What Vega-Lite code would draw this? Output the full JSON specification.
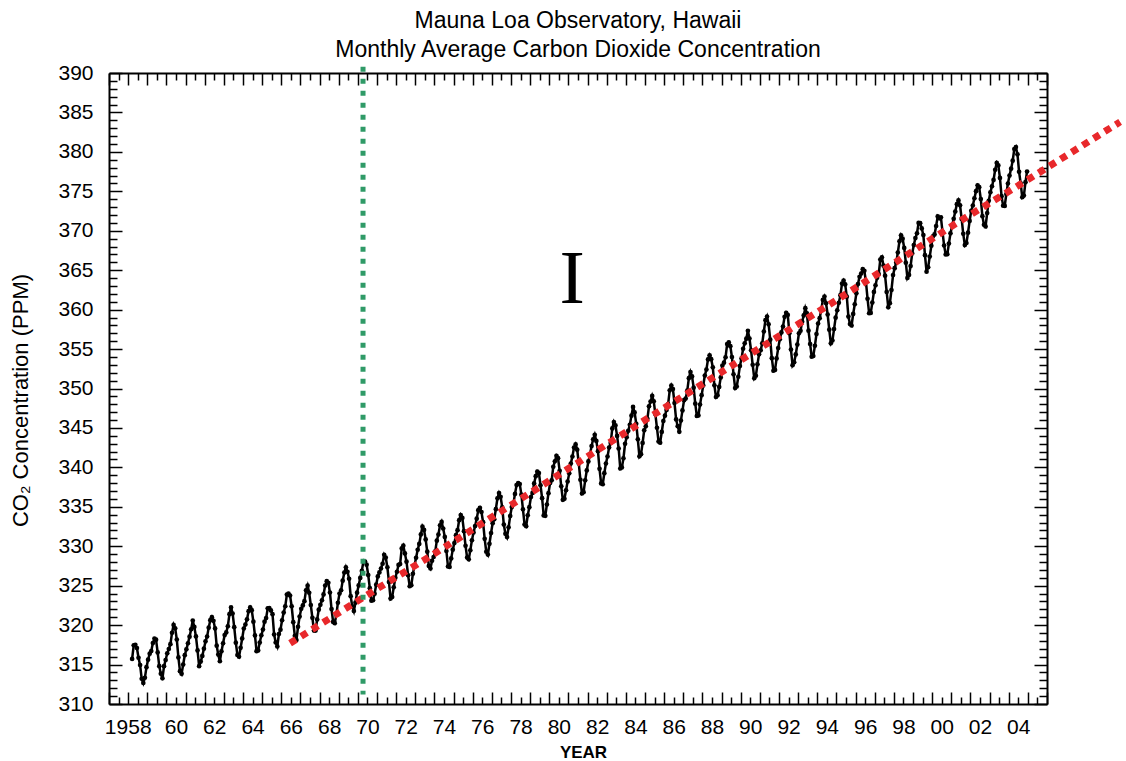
{
"$schema": "https://vega.github.io/schema/vega-lite/v6.json",
"width": 938, "height": 631,
"autosize": "none",
"padding": {"left": 109, "top": 73, "right": 79, "bottom": 57},
"background": "white",
"config": {
  "view": {"stroke": null},
  "axis": {"grid": false, "domainColor": "black", "domainWidth": 2, "tickColor": "black", "tickWidth": 1.5,
           "labelColor": "black", "labelFont": "Liberation Sans", "labelFontSize": 21, "titleColor": "black", "titleFont": "Liberation Sans",
           "labelOverlap": false, "labelFlush": false}
},
"title": {"text": ["Mauna Loa Observatory, Hawaii", "Monthly Average Carbon Dioxide Concentration"], "font": "Liberation Sans", "fontSize": 23, "fontWeight": "normal", "color": "black", "lineHeight": 29, "anchor": "middle", "offset": 0},
"datasets": {
"co2": [
{"t":1958.208,"v":315.71},{"t":1958.292,"v":317.45},{"t":1958.375,"v":317.50},{"t":1958.458,"v":317.10},{"t":1958.542,"v":315.86},{"t":1958.625,"v":314.93},{"t":1958.708,"v":313.20},{"t":1958.792,"v":312.66},{"t":1958.875,"v":313.33},{"t":1958.958,"v":314.67},
{"t":1959.042,"v":315.62},{"t":1959.125,"v":316.38},{"t":1959.208,"v":316.71},{"t":1959.292,"v":317.72},{"t":1959.375,"v":318.29},{"t":1959.458,"v":318.15},{"t":1959.542,"v":316.54},{"t":1959.625,"v":314.80},{"t":1959.708,"v":313.84},{"t":1959.792,"v":313.26},{"t":1959.875,"v":314.80},{"t":1959.958,"v":315.58},
{"t":1960.042,"v":316.43},{"t":1960.125,"v":316.97},{"t":1960.208,"v":317.58},{"t":1960.292,"v":319.02},{"t":1960.375,"v":320.03},{"t":1960.458,"v":319.59},{"t":1960.542,"v":318.18},{"t":1960.625,"v":315.91},{"t":1960.708,"v":314.16},{"t":1960.792,"v":313.83},{"t":1960.875,"v":315.00},{"t":1960.958,"v":316.19},
{"t":1961.042,"v":316.93},{"t":1961.125,"v":317.70},{"t":1961.208,"v":318.54},{"t":1961.292,"v":319.48},{"t":1961.375,"v":320.58},{"t":1961.458,"v":319.77},{"t":1961.542,"v":318.57},{"t":1961.625,"v":316.79},{"t":1961.708,"v":314.80},{"t":1961.792,"v":315.38},{"t":1961.875,"v":316.10},{"t":1961.958,"v":317.01},
{"t":1962.042,"v":317.94},{"t":1962.125,"v":318.56},{"t":1962.208,"v":319.68},{"t":1962.292,"v":320.63},{"t":1962.375,"v":321.01},{"t":1962.458,"v":320.55},{"t":1962.542,"v":319.58},{"t":1962.625,"v":317.40},{"t":1962.708,"v":316.26},{"t":1962.792,"v":315.42},{"t":1962.875,"v":316.69},{"t":1962.958,"v":317.69},
{"t":1963.042,"v":318.74},{"t":1963.125,"v":319.08},{"t":1963.208,"v":319.86},{"t":1963.292,"v":321.39},{"t":1963.375,"v":322.25},{"t":1963.458,"v":321.47},{"t":1963.542,"v":319.74},{"t":1963.625,"v":317.77},{"t":1963.708,"v":316.21},{"t":1963.792,"v":315.99},{"t":1963.875,"v":317.12},{"t":1963.958,"v":318.31},
{"t":1964.042,"v":319.57},{"t":1964.125,"v":320.07},{"t":1964.208,"v":320.73},{"t":1964.292,"v":321.77},{"t":1964.375,"v":322.25},{"t":1964.458,"v":321.89},{"t":1964.542,"v":320.44},{"t":1964.625,"v":318.70},{"t":1964.708,"v":316.70},{"t":1964.792,"v":316.79},{"t":1964.875,"v":317.79},{"t":1964.958,"v":318.71},
{"t":1965.042,"v":319.44},{"t":1965.125,"v":320.44},{"t":1965.208,"v":320.89},{"t":1965.292,"v":322.13},{"t":1965.375,"v":322.16},{"t":1965.458,"v":321.87},{"t":1965.542,"v":321.39},{"t":1965.625,"v":318.81},{"t":1965.708,"v":317.81},{"t":1965.792,"v":317.30},{"t":1965.875,"v":318.87},{"t":1965.958,"v":319.42},
{"t":1966.042,"v":320.62},{"t":1966.125,"v":321.59},{"t":1966.208,"v":322.39},{"t":1966.292,"v":323.87},{"t":1966.375,"v":324.01},{"t":1966.458,"v":323.75},{"t":1966.542,"v":322.39},{"t":1966.625,"v":320.37},{"t":1966.708,"v":318.64},{"t":1966.792,"v":318.10},{"t":1966.875,"v":319.79},{"t":1966.958,"v":321.08},
{"t":1967.042,"v":322.07},{"t":1967.125,"v":322.50},{"t":1967.208,"v":323.04},{"t":1967.292,"v":324.42},{"t":1967.375,"v":325.00},{"t":1967.458,"v":324.09},{"t":1967.542,"v":322.55},{"t":1967.625,"v":320.92},{"t":1967.708,"v":319.31},{"t":1967.792,"v":319.31},{"t":1967.875,"v":320.72},{"t":1967.958,"v":321.96},
{"t":1968.042,"v":322.57},{"t":1968.125,"v":323.15},{"t":1968.208,"v":323.89},{"t":1968.292,"v":325.02},{"t":1968.375,"v":325.57},{"t":1968.458,"v":325.36},{"t":1968.542,"v":324.14},{"t":1968.625,"v":322.03},{"t":1968.708,"v":320.41},{"t":1968.792,"v":320.25},{"t":1968.875,"v":321.31},{"t":1968.958,"v":322.84},
{"t":1969.042,"v":324.00},{"t":1969.125,"v":324.42},{"t":1969.208,"v":325.64},{"t":1969.292,"v":326.66},{"t":1969.375,"v":327.34},{"t":1969.458,"v":326.76},{"t":1969.542,"v":325.88},{"t":1969.625,"v":323.67},{"t":1969.708,"v":322.38},{"t":1969.792,"v":321.78},{"t":1969.875,"v":322.85},{"t":1969.958,"v":324.11},
{"t":1970.042,"v":325.03},{"t":1970.125,"v":325.99},{"t":1970.208,"v":326.87},{"t":1970.292,"v":328.13},{"t":1970.375,"v":328.07},{"t":1970.458,"v":327.66},{"t":1970.542,"v":326.35},{"t":1970.625,"v":324.69},{"t":1970.708,"v":323.10},{"t":1970.792,"v":323.16},{"t":1970.875,"v":323.98},{"t":1970.958,"v":325.13},
{"t":1971.042,"v":326.17},{"t":1971.125,"v":326.68},{"t":1971.208,"v":327.18},{"t":1971.292,"v":327.78},{"t":1971.375,"v":328.92},{"t":1971.458,"v":328.57},{"t":1971.542,"v":327.34},{"t":1971.625,"v":325.46},{"t":1971.708,"v":323.36},{"t":1971.792,"v":323.57},{"t":1971.875,"v":324.80},{"t":1971.958,"v":326.01},
{"t":1972.042,"v":326.77},{"t":1972.125,"v":327.63},{"t":1972.208,"v":327.75},{"t":1972.292,"v":329.72},{"t":1972.375,"v":330.07},{"t":1972.458,"v":329.09},{"t":1972.542,"v":328.05},{"t":1972.625,"v":326.32},{"t":1972.708,"v":324.93},{"t":1972.792,"v":325.06},{"t":1972.875,"v":326.50},{"t":1972.958,"v":327.55},
{"t":1973.042,"v":328.54},{"t":1973.125,"v":329.56},{"t":1973.208,"v":330.30},{"t":1973.292,"v":331.50},{"t":1973.375,"v":332.48},{"t":1973.458,"v":332.07},{"t":1973.542,"v":330.87},{"t":1973.625,"v":329.31},{"t":1973.708,"v":327.51},{"t":1973.792,"v":327.18},{"t":1973.875,"v":328.16},{"t":1973.958,"v":328.64},
{"t":1974.042,"v":329.35},{"t":1974.125,"v":330.71},{"t":1974.208,"v":331.48},{"t":1974.292,"v":332.65},{"t":1974.375,"v":333.09},{"t":1974.458,"v":332.25},{"t":1974.542,"v":331.18},{"t":1974.625,"v":329.40},{"t":1974.708,"v":327.43},{"t":1974.792,"v":327.37},{"t":1974.875,"v":328.46},{"t":1974.958,"v":329.57},
{"t":1975.042,"v":330.40},{"t":1975.125,"v":331.40},{"t":1975.208,"v":332.04},{"t":1975.292,"v":333.31},{"t":1975.375,"v":333.96},{"t":1975.458,"v":333.59},{"t":1975.542,"v":331.91},{"t":1975.625,"v":330.06},{"t":1975.708,"v":328.56},{"t":1975.792,"v":328.34},{"t":1975.875,"v":329.49},{"t":1975.958,"v":330.76},
{"t":1976.042,"v":331.75},{"t":1976.125,"v":332.56},{"t":1976.208,"v":333.50},{"t":1976.292,"v":334.58},{"t":1976.375,"v":334.87},{"t":1976.458,"v":334.34},{"t":1976.542,"v":333.05},{"t":1976.625,"v":330.94},{"t":1976.708,"v":329.30},{"t":1976.792,"v":328.94},{"t":1976.875,"v":330.31},{"t":1976.958,"v":331.68},
{"t":1977.042,"v":332.93},{"t":1977.125,"v":333.42},{"t":1977.208,"v":334.70},{"t":1977.292,"v":336.07},{"t":1977.375,"v":336.74},{"t":1977.458,"v":336.27},{"t":1977.542,"v":334.93},{"t":1977.625,"v":332.75},{"t":1977.708,"v":331.58},{"t":1977.792,"v":331.16},{"t":1977.875,"v":332.40},{"t":1977.958,"v":333.85},
{"t":1978.042,"v":334.97},{"t":1978.125,"v":335.39},{"t":1978.208,"v":336.64},{"t":1978.292,"v":337.76},{"t":1978.375,"v":338.01},{"t":1978.458,"v":337.89},{"t":1978.542,"v":336.54},{"t":1978.625,"v":334.68},{"t":1978.708,"v":332.76},{"t":1978.792,"v":332.54},{"t":1978.875,"v":333.92},{"t":1978.958,"v":334.95},
{"t":1979.042,"v":336.23},{"t":1979.125,"v":336.76},{"t":1979.208,"v":337.96},{"t":1979.292,"v":338.89},{"t":1979.375,"v":339.47},{"t":1979.458,"v":339.29},{"t":1979.542,"v":337.73},{"t":1979.625,"v":336.09},{"t":1979.708,"v":333.91},{"t":1979.792,"v":333.86},{"t":1979.875,"v":335.29},{"t":1979.958,"v":336.73},
{"t":1980.042,"v":338.01},{"t":1980.125,"v":338.36},{"t":1980.208,"v":340.08},{"t":1980.292,"v":340.77},{"t":1980.375,"v":341.46},{"t":1980.458,"v":341.17},{"t":1980.542,"v":339.56},{"t":1980.625,"v":337.60},{"t":1980.708,"v":335.88},{"t":1980.792,"v":336.01},{"t":1980.875,"v":337.10},{"t":1980.958,"v":338.21},
{"t":1981.042,"v":339.24},{"t":1981.125,"v":340.48},{"t":1981.208,"v":341.38},{"t":1981.292,"v":342.51},{"t":1981.375,"v":342.91},{"t":1981.458,"v":342.25},{"t":1981.542,"v":340.49},{"t":1981.625,"v":338.43},{"t":1981.708,"v":336.69},{"t":1981.792,"v":336.86},{"t":1981.875,"v":338.36},{"t":1981.958,"v":339.61},
{"t":1982.042,"v":340.75},{"t":1982.125,"v":341.61},{"t":1982.208,"v":342.70},{"t":1982.292,"v":343.56},{"t":1982.375,"v":344.13},{"t":1982.458,"v":343.35},{"t":1982.542,"v":342.06},{"t":1982.625,"v":339.82},{"t":1982.708,"v":337.97},{"t":1982.792,"v":337.86},{"t":1982.875,"v":339.26},{"t":1982.958,"v":340.49},
{"t":1983.042,"v":341.38},{"t":1983.125,"v":342.52},{"t":1983.208,"v":343.10},{"t":1983.292,"v":344.94},{"t":1983.375,"v":345.75},{"t":1983.458,"v":345.32},{"t":1983.542,"v":343.99},{"t":1983.625,"v":342.39},{"t":1983.708,"v":339.86},{"t":1983.792,"v":339.99},{"t":1983.875,"v":341.16},{"t":1983.958,"v":342.99},
{"t":1984.042,"v":343.82},{"t":1984.125,"v":344.63},{"t":1984.208,"v":345.40},{"t":1984.292,"v":346.56},{"t":1984.375,"v":347.66},{"t":1984.458,"v":346.97},{"t":1984.542,"v":345.53},{"t":1984.625,"v":343.55},{"t":1984.708,"v":341.40},{"t":1984.792,"v":341.67},{"t":1984.875,"v":343.10},{"t":1984.958,"v":344.70},
{"t":1985.042,"v":345.21},{"t":1985.125,"v":346.16},{"t":1985.208,"v":347.74},{"t":1985.292,"v":348.34},{"t":1985.375,"v":349.06},{"t":1985.458,"v":348.38},{"t":1985.542,"v":346.72},{"t":1985.625,"v":345.02},{"t":1985.708,"v":343.27},{"t":1985.792,"v":343.13},{"t":1985.875,"v":344.49},{"t":1985.958,"v":345.88},
{"t":1986.042,"v":346.56},{"t":1986.125,"v":347.28},{"t":1986.208,"v":348.01},{"t":1986.292,"v":349.77},{"t":1986.375,"v":350.38},{"t":1986.458,"v":349.93},{"t":1986.542,"v":348.16},{"t":1986.625,"v":346.08},{"t":1986.708,"v":345.22},{"t":1986.792,"v":344.51},{"t":1986.875,"v":345.93},{"t":1986.958,"v":347.22},
{"t":1987.042,"v":348.52},{"t":1987.125,"v":348.73},{"t":1987.208,"v":349.73},{"t":1987.292,"v":351.31},{"t":1987.375,"v":352.09},{"t":1987.458,"v":351.53},{"t":1987.542,"v":350.11},{"t":1987.625,"v":348.08},{"t":1987.708,"v":346.52},{"t":1987.792,"v":346.59},{"t":1987.875,"v":347.96},{"t":1987.958,"v":349.16},
{"t":1988.042,"v":350.39},{"t":1988.125,"v":351.64},{"t":1988.208,"v":352.40},{"t":1988.292,"v":353.69},{"t":1988.375,"v":354.21},{"t":1988.458,"v":353.72},{"t":1988.542,"v":352.69},{"t":1988.625,"v":350.40},{"t":1988.708,"v":348.92},{"t":1988.792,"v":349.13},{"t":1988.875,"v":350.20},{"t":1988.958,"v":351.41},
{"t":1989.042,"v":352.91},{"t":1989.125,"v":353.27},{"t":1989.208,"v":353.96},{"t":1989.292,"v":355.64},{"t":1989.375,"v":355.86},{"t":1989.458,"v":355.37},{"t":1989.542,"v":353.99},{"t":1989.625,"v":351.81},{"t":1989.708,"v":350.05},{"t":1989.792,"v":350.25},{"t":1989.875,"v":351.49},{"t":1989.958,"v":352.85},
{"t":1990.042,"v":353.80},{"t":1990.125,"v":355.04},{"t":1990.208,"v":355.73},{"t":1990.292,"v":356.32},{"t":1990.375,"v":357.32},{"t":1990.458,"v":356.34},{"t":1990.542,"v":354.84},{"t":1990.625,"v":353.01},{"t":1990.708,"v":351.31},{"t":1990.792,"v":351.62},{"t":1990.875,"v":353.07},{"t":1990.958,"v":354.33},
{"t":1991.042,"v":354.84},{"t":1991.125,"v":355.73},{"t":1991.208,"v":357.23},{"t":1991.292,"v":358.66},{"t":1991.375,"v":359.13},{"t":1991.458,"v":358.13},{"t":1991.542,"v":356.19},{"t":1991.625,"v":353.85},{"t":1991.708,"v":352.25},{"t":1991.792,"v":352.35},{"t":1991.875,"v":353.81},{"t":1991.958,"v":355.12},
{"t":1992.042,"v":356.25},{"t":1992.125,"v":357.11},{"t":1992.208,"v":357.86},{"t":1992.292,"v":359.09},{"t":1992.375,"v":359.59},{"t":1992.458,"v":359.33},{"t":1992.542,"v":357.01},{"t":1992.625,"v":354.94},{"t":1992.708,"v":352.96},{"t":1992.792,"v":353.32},{"t":1992.875,"v":354.32},{"t":1992.958,"v":355.57},
{"t":1993.042,"v":357.00},{"t":1993.125,"v":357.31},{"t":1993.208,"v":358.47},{"t":1993.292,"v":359.27},{"t":1993.375,"v":360.19},{"t":1993.458,"v":359.52},{"t":1993.542,"v":357.33},{"t":1993.625,"v":355.64},{"t":1993.708,"v":354.03},{"t":1993.792,"v":354.12},{"t":1993.875,"v":355.41},{"t":1993.958,"v":356.91},
{"t":1994.042,"v":358.24},{"t":1994.125,"v":358.92},{"t":1994.208,"v":359.99},{"t":1994.292,"v":361.23},{"t":1994.375,"v":361.65},{"t":1994.458,"v":360.81},{"t":1994.542,"v":359.38},{"t":1994.625,"v":357.46},{"t":1994.708,"v":355.73},{"t":1994.792,"v":356.07},{"t":1994.875,"v":357.53},{"t":1994.958,"v":358.98},
{"t":1995.042,"v":359.92},{"t":1995.125,"v":360.86},{"t":1995.208,"v":361.83},{"t":1995.292,"v":363.30},{"t":1995.375,"v":363.69},{"t":1995.458,"v":363.19},{"t":1995.542,"v":361.64},{"t":1995.625,"v":359.12},{"t":1995.708,"v":358.17},{"t":1995.792,"v":357.99},{"t":1995.875,"v":359.45},{"t":1995.958,"v":360.68},
{"t":1996.042,"v":362.07},{"t":1996.125,"v":363.24},{"t":1996.208,"v":364.17},{"t":1996.292,"v":364.57},{"t":1996.375,"v":365.13},{"t":1996.458,"v":364.92},{"t":1996.542,"v":363.55},{"t":1996.625,"v":361.38},{"t":1996.708,"v":359.54},{"t":1996.792,"v":359.58},{"t":1996.875,"v":360.89},{"t":1996.958,"v":362.24},
{"t":1997.042,"v":363.09},{"t":1997.125,"v":364.03},{"t":1997.208,"v":364.51},{"t":1997.292,"v":366.35},{"t":1997.375,"v":366.64},{"t":1997.458,"v":365.59},{"t":1997.542,"v":364.31},{"t":1997.625,"v":362.25},{"t":1997.708,"v":360.29},{"t":1997.792,"v":360.82},{"t":1997.875,"v":362.49},{"t":1997.958,"v":364.38},
{"t":1998.042,"v":365.26},{"t":1998.125,"v":365.98},{"t":1998.208,"v":367.24},{"t":1998.292,"v":368.66},{"t":1998.375,"v":369.42},{"t":1998.458,"v":368.99},{"t":1998.542,"v":367.82},{"t":1998.625,"v":365.95},{"t":1998.708,"v":364.02},{"t":1998.792,"v":364.40},{"t":1998.875,"v":365.52},{"t":1998.958,"v":367.13},
{"t":1999.042,"v":368.18},{"t":1999.125,"v":369.07},{"t":1999.208,"v":369.68},{"t":1999.292,"v":370.99},{"t":1999.375,"v":370.96},{"t":1999.458,"v":370.30},{"t":1999.542,"v":369.45},{"t":1999.625,"v":366.90},{"t":1999.708,"v":364.81},{"t":1999.792,"v":365.37},{"t":1999.875,"v":366.72},{"t":1999.958,"v":368.10},
{"t":2000.042,"v":369.29},{"t":2000.125,"v":369.54},{"t":2000.208,"v":370.60},{"t":2000.292,"v":371.82},{"t":2000.375,"v":371.58},{"t":2000.458,"v":371.70},{"t":2000.542,"v":369.86},{"t":2000.625,"v":368.13},{"t":2000.708,"v":367.00},{"t":2000.792,"v":367.03},{"t":2000.875,"v":368.37},{"t":2000.958,"v":369.67},
{"t":2001.042,"v":370.59},{"t":2001.125,"v":371.51},{"t":2001.208,"v":372.43},{"t":2001.292,"v":373.37},{"t":2001.375,"v":373.85},{"t":2001.458,"v":373.22},{"t":2001.542,"v":371.50},{"t":2001.625,"v":369.61},{"t":2001.708,"v":368.18},{"t":2001.792,"v":368.45},{"t":2001.875,"v":369.76},{"t":2001.958,"v":371.24},
{"t":2002.042,"v":372.53},{"t":2002.125,"v":373.20},{"t":2002.208,"v":374.12},{"t":2002.292,"v":375.02},{"t":2002.375,"v":375.76},{"t":2002.458,"v":375.52},{"t":2002.542,"v":374.01},{"t":2002.625,"v":371.85},{"t":2002.708,"v":370.75},{"t":2002.792,"v":370.55},{"t":2002.875,"v":372.25},{"t":2002.958,"v":373.79},
{"t":2003.042,"v":374.88},{"t":2003.125,"v":375.64},{"t":2003.208,"v":376.45},{"t":2003.292,"v":377.73},{"t":2003.375,"v":378.60},{"t":2003.458,"v":378.28},{"t":2003.542,"v":376.70},{"t":2003.625,"v":374.38},{"t":2003.708,"v":373.17},{"t":2003.792,"v":373.15},{"t":2003.875,"v":374.66},{"t":2003.958,"v":375.99},
{"t":2004.042,"v":377.00},{"t":2004.125,"v":377.87},{"t":2004.208,"v":378.88},{"t":2004.292,"v":380.35},{"t":2004.375,"v":380.62},{"t":2004.458,"v":379.69},{"t":2004.542,"v":377.47},{"t":2004.625,"v":376.01},{"t":2004.708,"v":374.25},{"t":2004.792,"v":374.46},{"t":2004.875,"v":376.16},{"t":2004.958,"v":377.51}
],
"trend": [
{"t":1966.46,"v":317.7},{"t":1970.8,"v":324.3},{"t":1973.7,"v":328.6},{"t":1980,"v":338.3},{"t":1985,"v":346.0},{"t":1990,"v":353.6},{"t":1995,"v":361.2},{"t":2001.1,"v":370.7},{"t":2004.75,"v":376.1},{"t":2009.82,"v":383.8}
]
},
"layer": [
{
  "data": {"name": "co2"},
  "mark": {"type": "line", "color": "black", "strokeWidth": 2.5, "point": {"filled": true, "size": 22, "color": "black"}},
  "encoding": {
    "x": {"field": "t", "type": "quantitative", "scale": {"domain": [1957, 2006], "nice": false, "zero": false},
      "axis": {"orient": "bottom", "title": "YEAR", "titleFontSize": 17, "titleFontWeight": "bold", "titleX": 474, "titleY": 53, "titleBaseline": "alphabetic",
        "values": [1957,1957.5,1958,1958.5,1959,1959.5,1960,1960.5,1961,1961.5,1962,1962.5,1963,1963.5,1964,1964.5,1965,1965.5,1966,1966.5,1967,1967.5,1968,1968.5,1969,1969.5,1970,1970.5,1971,1971.5,1972,1972.5,1973,1973.5,1974,1974.5,1975,1975.5,1976,1976.5,1977,1977.5,1978,1978.5,1979,1979.5,1980,1980.5,1981,1981.5,1982,1982.5,1983,1983.5,1984,1984.5,1985,1985.5,1986,1986.5,1987,1987.5,1988,1988.5,1989,1989.5,1990,1990.5,1991,1991.5,1992,1992.5,1993,1993.5,1994,1994.5,1995,1995.5,1996,1996.5,1997,1997.5,1998,1998.5,1999,1999.5,2000,2000.5,2001,2001.5,2002,2002.5,2003,2003.5,2004,2004.5,2005,2005.5,2006],
        "labelExpr": "datum.value == 1958.5 ? '1958' : (datum.value % 2 == 0.5 ? slice(toString(floor(datum.value)), 2) : '')",
        "labelOffset": {"condition": {"test": "datum.value == 1958.5", "value": -10}, "value": 0},
        "tickSize": {"condition": {"test": "datum.value % 1 == 0", "value": -12}, "value": -7},
        "labelPadding": 19}},
    "y": {"field": "v", "type": "quantitative", "scale": {"domain": [310, 390], "nice": false, "zero": false},
      "axis": {"orient": "left", "title": "CO₂ Concentration (PPM)", "titleFontSize": 22, "titleFontWeight": "normal", "titleAngle": -90, "titleX": -82, "titleY": 327, "titleBaseline": "alphabetic",
        "values": [310,311,312,313,314,315,316,317,318,319,320,321,322,323,324,325,326,327,328,329,330,331,332,333,334,335,336,337,338,339,340,341,342,343,344,345,346,347,348,349,350,351,352,353,354,355,356,357,358,359,360,361,362,363,364,365,366,367,368,369,370,371,372,373,374,375,376,377,378,379,380,381,382,383,384,385,386,387,388,389,390],
        "labelExpr": "datum.value % 5 == 0 ? datum.label : ''",
        "tickSize": {"condition": {"test": "datum.value % 5 == 0", "value": -13}, "value": -8},
        "labelPadding": 29}}
  }
},
{
  "data": {"name": "trend"},
  "mark": {"type": "line", "color": "#e8282b", "strokeWidth": 7, "strokeDash": [7, 6], "strokeCap": "butt"},
  "encoding": {
    "x": {"field": "t", "type": "quantitative", "scale": {"domain": [1957, 2006], "nice": false, "zero": false},
      "axis": {"orient": "top", "title": null, "labels": false,
        "values": [1957,1957.5,1958,1958.5,1959,1959.5,1960,1960.5,1961,1961.5,1962,1962.5,1963,1963.5,1964,1964.5,1965,1965.5,1966,1966.5,1967,1967.5,1968,1968.5,1969,1969.5,1970,1970.5,1971,1971.5,1972,1972.5,1973,1973.5,1974,1974.5,1975,1975.5,1976,1976.5,1977,1977.5,1978,1978.5,1979,1979.5,1980,1980.5,1981,1981.5,1982,1982.5,1983,1983.5,1984,1984.5,1985,1985.5,1986,1986.5,1987,1987.5,1988,1988.5,1989,1989.5,1990,1990.5,1991,1991.5,1992,1992.5,1993,1993.5,1994,1994.5,1995,1995.5,1996,1996.5,1997,1997.5,1998,1998.5,1999,1999.5,2000,2000.5,2001,2001.5,2002,2002.5,2003,2003.5,2004,2004.5,2005,2005.5,2006],
        "tickSize": {"condition": {"test": "datum.value % 1 == 0", "value": -12}, "value": -7}}},
    "y": {"field": "v", "type": "quantitative", "scale": {"domain": [310, 390], "nice": false, "zero": false},
      "axis": {"orient": "right", "title": null, "labels": false,
        "values": [310,311,312,313,314,315,316,317,318,319,320,321,322,323,324,325,326,327,328,329,330,331,332,333,334,335,336,337,338,339,340,341,342,343,344,345,346,347,348,349,350,351,352,353,354,355,356,357,358,359,360,361,362,363,364,365,366,367,368,369,370,371,372,373,374,375,376,377,378,379,380,381,382,383,384,385,386,387,388,389,390],
        "tickSize": {"condition": {"test": "datum.value % 5 == 0", "value": -13}, "value": -8}}}
  }
},
{
  "data": {"values": [{"t": 1970.27, "top": 390.8, "bottom": 311.2}]},
  "mark": {"type": "rule", "color": "#2f9a67", "strokeWidth": 5, "strokeDash": [5, 7], "strokeCap": "butt"},
  "encoding": {
    "x": {"field": "t", "type": "quantitative", "axis": null},
    "y": {"field": "top", "type": "quantitative", "axis": null},
    "y2": {"field": "bottom"}
  }
},
{
  "data": {"values": [{"t": 1981.2, "v": 360.8, "label": "I"}]},
  "mark": {"type": "text", "font": "Liberation Serif", "fontSize": 76, "align": "center", "baseline": "alphabetic", "color": "black"},
  "encoding": {
    "x": {"field": "t", "type": "quantitative", "axis": null},
    "y": {"field": "v", "type": "quantitative", "axis": null},
    "text": {"field": "label"}
  }
}
],
"resolve": {"axis": {"x": "independent", "y": "independent"}}
}
